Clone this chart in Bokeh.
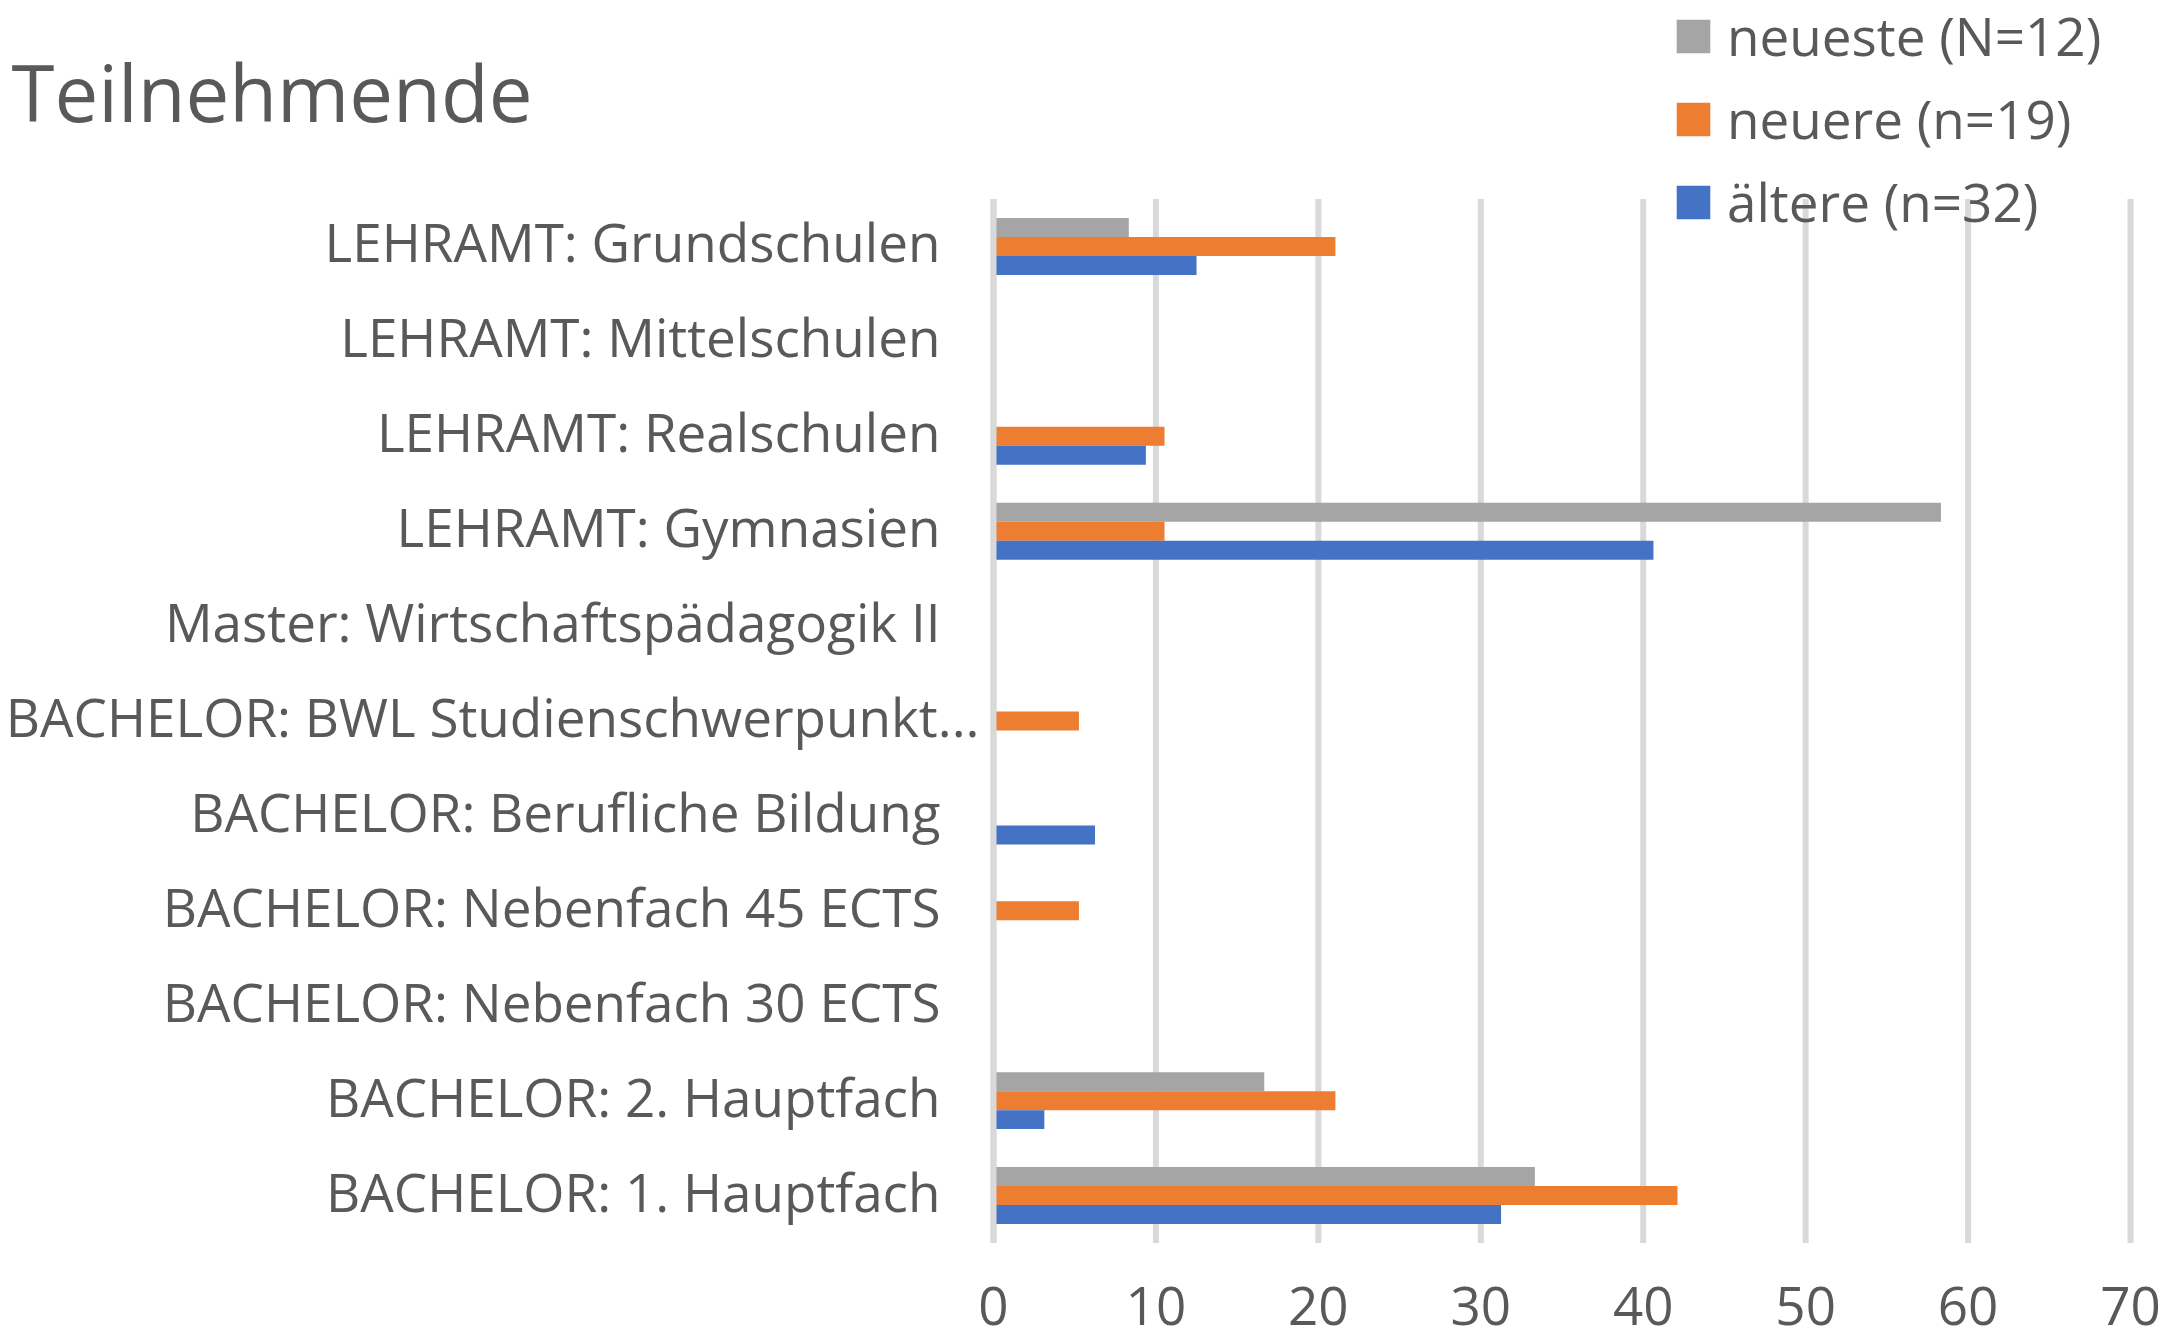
from bokeh.plotting import figure
from bokeh.models import (ColumnDataSource, Range1d, Legend, LegendItem, Label, LabelSet)
from bokeh.embed import file_html
from bokeh.resources import INLINE
from bokeh.core.properties import value

# ---- data (top to bottom as shown) ----
categories = [
    "LEHRAMT: Grundschulen",
    "LEHRAMT: Mittelschulen",
    "LEHRAMT: Realschulen",
    "LEHRAMT: Gymnasien",
    "Master: Wirtschaftspädagogik II",
    "BACHELOR: BWL Studienschwerpunkt...",
    "BACHELOR: Berufliche Bildung",
    "BACHELOR: Nebenfach 45 ECTS",
    "BACHELOR: Nebenfach 30 ECTS",
    "BACHELOR: 2. Hauptfach",
    "BACHELOR: 1. Hauptfach",
]
neueste = [8.33, 0, 0, 58.33, 0, 0, 0, 0, 0, 16.67, 33.33]
neuere = [21.05, 0, 10.53, 10.53, 0, 5.26, 0, 5.26, 0, 21.05, 42.11]
aeltere = [12.5, 0, 9.38, 40.63, 0, 0, 6.25, 0, 0, 3.13, 31.25]
series_labels = ["neueste (N=12)", "neuere (n=19)", "ältere (n=32)"]
series_colors = ["#A5A5A5", "#ED7D31", "#4472C4"]
x_ticks = [0, 10, 20, 30, 40, 50, 60, 70]
title_text = "Teilnehmende"

FONT = "Open Sans"
TXT = "#595959"
FS = "53px"
W, H = 2168, 1343

n = len(categories)
ypos = [n - 0.5 - i for i in range(n)]          # category centres, top -> bottom

# plot area: x 0..70 spans px 993..2130, categories span px 198.5..1242.5
px_per_x = (2130 - 993) / 70.0
px_per_cat = (1242.5 - 198.5) / n
x_range = Range1d(-993 / px_per_x, 70 + (W - 2130) / px_per_x)
y_range = Range1d(-(H - 1242.5) / px_per_cat, n + 198.5 / px_per_cat)

p = figure(width=W, height=H, x_range=x_range, y_range=y_range,
           output_backend="svg", toolbar_location=None,
           min_border=0, min_border_left=0, min_border_right=0,
           min_border_top=0, min_border_bottom=0)
p.outline_line_color = None
p.axis.visible = False
p.grid.visible = False
p.background_fill_color = "white"
p.border_fill_color = "white"

# vertical gridlines
grid_src = ColumnDataSource(dict(x=x_ticks, y0=[0] * len(x_ticks), y1=[n] * len(x_ticks)))
p.segment(x0="x", y0="y0", x1="x", y1="y1", source=grid_src,
          line_color="#D9D9D9", line_width=6)

src = ColumnDataSource(dict(y=ypos, neueste=neueste, neuere=neuere, aeltere=aeltere))
offsets = [0.2, 0.0, -0.2]
fields = ["neueste", "neuere", "aeltere"]
renderers = []
for f, off, col in zip(fields, offsets, series_colors):
    r = p.hbar(y=[v + off for v in ypos], left=0, right=src.data[f], height=0.2,
               fill_color=col, line_color=None)
    renderers.append(r)

# category axis line (at x = 0) drawn over the bars
p.segment(x0=[x_ticks[0]], y0=[0], x1=[x_ticks[0]], y1=[n],
          line_color="#D9D9D9", line_width=6)

# x tick labels
tick_src = ColumnDataSource(dict(x=x_ticks, y=[0] * len(x_ticks), t=[str(t) for t in x_ticks]))
p.add_layout(LabelSet(x="x", y="y", text="t", source=tick_src, y_offset=-82,
                      text_align="center", text_baseline="alphabetic",
                      text_font=value(FONT), text_font_size=FS, text_color=TXT))

# category labels
shift = [-53 + (39 if c.endswith("...") else 0) for c in categories]
lab_src = ColumnDataSource(dict(x=[0] * n, y=ypos, text=categories, dx=shift))
p.add_layout(LabelSet(x="x", y="y", text="text", source=lab_src,
                      x_offset="dx", y_offset=-16, text_align="right",
                      text_baseline="alphabetic",
                      text_font=value(FONT), text_font_size=FS, text_color=TXT))

# title
p.add_layout(Label(x=11, y=H - 91, x_units="screen", y_units="screen", text=title_text,
                   text_font=FONT, text_font_size="78px", text_color=TXT,
                   text_baseline="alphabetic", text_align="left"))

# legend
legend = Legend(items=[LegendItem(label=l, renderers=[r]) for l, r in zip(series_labels, renderers)],
                location=(1672, H - 238), orientation="vertical",
                glyph_width=42, glyph_height=42, label_height=72, spacing=10,
                label_standoff=13, padding=0, margin=0,
                border_line_color=None, background_fill_alpha=0,
                label_text_font=FONT, label_text_font_size=FS, label_text_color=TXT)
p.add_layout(legend, "center")

open("out.html", "w").write(file_html(p, INLINE))
